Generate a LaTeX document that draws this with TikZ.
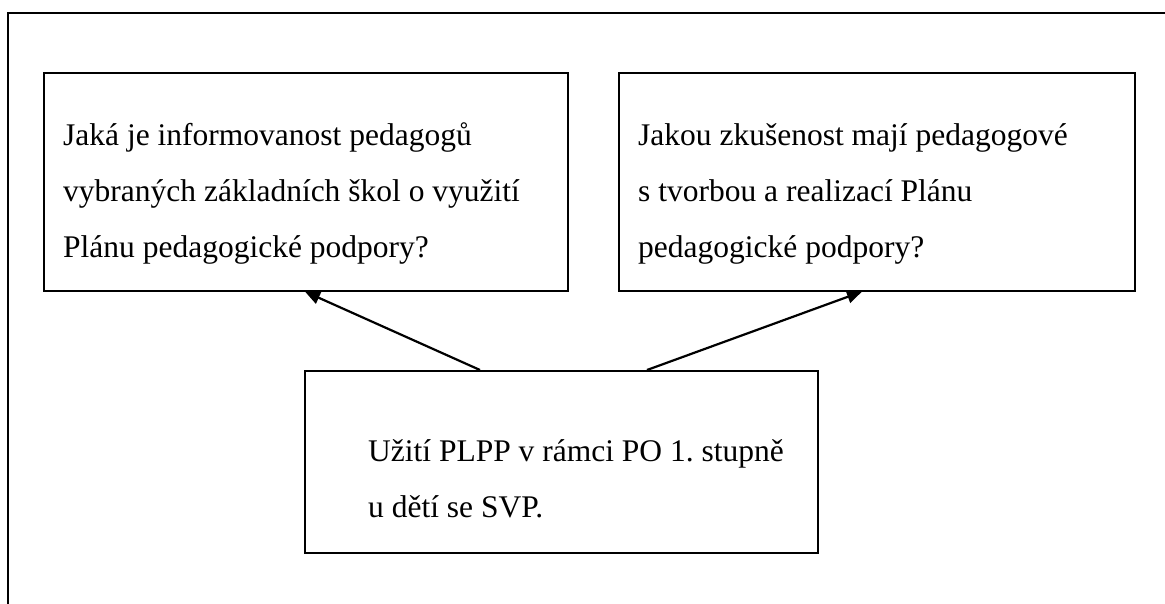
\documentclass[tikz,border=0pt]{standalone}
\usepackage{fontspec}
\setmainfont{Liberation Serif}
\usetikzlibrary{arrows.meta,calc}
\begin{document}
\frenchspacing
\begin{tikzpicture}[x=1pt,y=-1pt,
  box/.style={draw,line width=1.6pt,inner sep=0pt,anchor=north west},
  txt/.style={anchor=base west,inner sep=0pt,align=left,font=\fontsize{31.5}{56}\selectfont},
  conn/.style={line width=2.2pt,-{Triangle[length=15pt,width=13pt]}}]
\useasboundingbox (0,0) rectangle (1165,603);
\clip (0,0) rectangle (1165,603);
\draw[line width=2pt] (8,620) -- (8,13) -- (1180,13);
\node[box,minimum width=524pt,minimum height=218pt] (L) at (43,72) {};
\node[box,minimum width=516pt,minimum height=218pt] (R) at (618,72) {};
\node[box,minimum width=513pt,minimum height=182pt] (B) at (304,370) {};
\node[txt] (Lt) at (63,257) {Jaká je informovanost pedagogů\\vybraných základních škol o využití\\Plánu pedagogické podpory?};
\node[txt] (Rt) at (638,257) {Jakou zkušenost mají pedagogové\\s tvorbou a realizací Plánu\\pedagogické podpory?};
\node[txt] (Bt) at (368,517) {Užití PLPP v rámci PO 1. stupně\\u dětí se SVP.};
\draw[conn] ([xshift=176pt]B.north west) -- ([xshift=262pt]L.south west);
\draw[conn] ([xshift=343pt]B.north west) -- ([xshift=244pt]R.south west);
\end{tikzpicture}
\end{document}
